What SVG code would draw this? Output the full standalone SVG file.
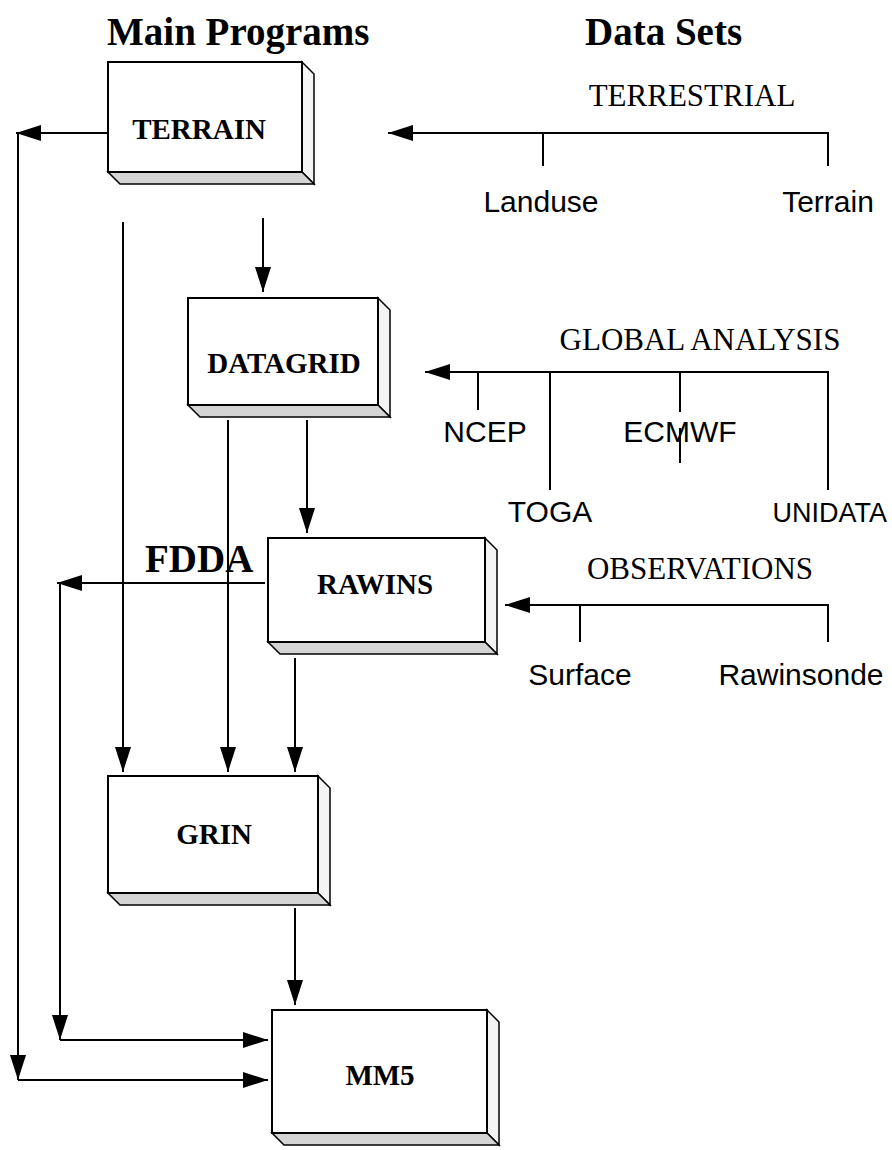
<svg xmlns="http://www.w3.org/2000/svg" width="892" height="1150" viewBox="0 0 892 1150">
<style>
.front{fill:#fff;stroke:#000;stroke-width:2}
.side{fill:#f4f4f4;stroke:#000;stroke-width:1.5}
.bottom{fill:#d4d4d4;stroke:#000;stroke-width:1.5}
.lbl{font-family:"Liberation Serif",serif;font-weight:bold;font-size:29px;text-anchor:middle;fill:#000}
.title{font-family:"Liberation Serif",serif;font-weight:bold;font-size:39px;fill:#000}
.cat{font-family:"Liberation Serif",serif;font-size:31px;text-anchor:middle;fill:#000}
.ds{font-family:"Liberation Sans",sans-serif;font-size:30px;text-anchor:middle;fill:#000}
.ln{stroke:#000;stroke-width:2;fill:none}
.ar{stroke:#000;stroke-width:2;fill:none;marker-end:url(#ah)}
</style>
<defs>
<marker id="ah" markerUnits="userSpaceOnUse" markerWidth="28" markerHeight="18" refX="25" refY="8" orient="auto">
<path d="M0,0 L25,8 L0,16 z" fill="#000"/>
</marker>
</defs>

<text class="title" x="107" y="45">Main Programs</text>
<text class="title" x="585" y="45">Data Sets</text>

<g id="terrain">
<polygon class="side" points="302,62 314,74 314,184 302,172"/>
<polygon class="bottom" points="108,172 302,172 314,184 120,184"/>
<rect class="front" x="108" y="62" width="194" height="110"/>
<text class="lbl" x="199" y="139">TERRAIN</text>
</g>
<g id="datagrid">
<polygon class="side" points="378,298 390,310 390,417 378,405"/>
<polygon class="bottom" points="188,405 378,405 390,417 200,417"/>
<rect class="front" x="188" y="298" width="190" height="107"/>
<text class="lbl" x="284" y="373">DATAGRID</text>
</g>
<g id="rawins">
<polygon class="side" points="485,538 497,550 497,654 485,642"/>
<polygon class="bottom" points="268,642 485,642 497,654 280,654"/>
<rect class="front" x="268" y="538" width="217" height="104"/>
<text class="lbl" x="375" y="594">RAWINS</text>
</g>
<g id="grin">
<polygon class="side" points="318,776 330,788 330,905 318,893"/>
<polygon class="bottom" points="108,893 318,893 330,905 120,905"/>
<rect class="front" x="108" y="776" width="210" height="117"/>
<text class="lbl" x="214" y="844">GRIN</text>
</g>
<g id="mm5">
<polygon class="side" points="487,1010 499,1022 499,1145 487,1133"/>
<polygon class="bottom" points="272,1133 487,1133 499,1145 284,1145"/>
<rect class="front" x="272" y="1010" width="215" height="123"/>
<text class="lbl" x="380" y="1085">MM5</text>
</g>

<g id="terrestrial">
<text class="cat" x="692" y="106">TERRESTRIAL</text>
<text class="ds" x="541" y="212">Landuse</text>
<text class="ds" x="828" y="212">Terrain</text>
</g>
<g id="global">
<text class="cat" x="700" y="350">GLOBAL ANALYSIS</text>
<text class="ds" x="485" y="442">NCEP</text>
<text class="ds" x="680" y="442">ECMWF</text>
<text class="ds" x="550" y="522">TOGA</text>
<text class="ds" x="887" y="522" style="text-anchor:end;font-size:27px">UNIDATA</text>
</g>
<g id="observations">
<text class="cat" x="700" y="579">OBSERVATIONS</text>
<text class="ds" x="580" y="685">Surface</text>
<text class="ds" x="801" y="685">Rawinsonde</text>
</g>
<g id="fdda">
<text class="title" x="145" y="572">FDDA</text>
</g>

<g id="connectors">
<line class="ar" x1="263" y1="218" x2="263" y2="292"/>
<line class="ar" x1="123" y1="222" x2="123" y2="772"/>
<line class="ar" x1="228" y1="420" x2="228" y2="772"/>
<line class="ar" x1="307" y1="420" x2="307" y2="533"/>
<line class="ar" x1="295" y1="658" x2="295" y2="772"/>
<line class="ar" x1="295" y1="908" x2="295" y2="1005"/>

<line class="ar" x1="108" y1="133" x2="16" y2="133"/>
<line class="ar" x1="18" y1="133" x2="18" y2="1080"/>
<line class="ar" x1="18" y1="1080" x2="268" y2="1080"/>

<line class="ar" x1="265" y1="583" x2="57" y2="583"/>
<line class="ar" x1="60" y1="583" x2="60" y2="1040"/>
<line class="ar" x1="60" y1="1040" x2="268" y2="1040"/>

<line class="ar" x1="829" y1="133" x2="388" y2="133"/>
<line class="ln" x1="543" y1="133" x2="543" y2="166"/>
<line class="ln" x1="828" y1="133" x2="828" y2="166"/>

<line class="ar" x1="829" y1="372" x2="425" y2="372"/>
<line class="ln" x1="478" y1="372" x2="478" y2="410"/>
<line class="ln" x1="550" y1="372" x2="550" y2="490"/>
<line class="ln" x1="680" y1="372" x2="680" y2="412"/>
<line class="ln" x1="680" y1="428" x2="680" y2="463"/>
<line class="ln" x1="828" y1="372" x2="828" y2="490"/>

<line class="ar" x1="829" y1="605" x2="505" y2="605"/>
<line class="ln" x1="580" y1="605" x2="580" y2="642"/>
<line class="ln" x1="828" y1="605" x2="828" y2="642"/>
</g>
</svg>
